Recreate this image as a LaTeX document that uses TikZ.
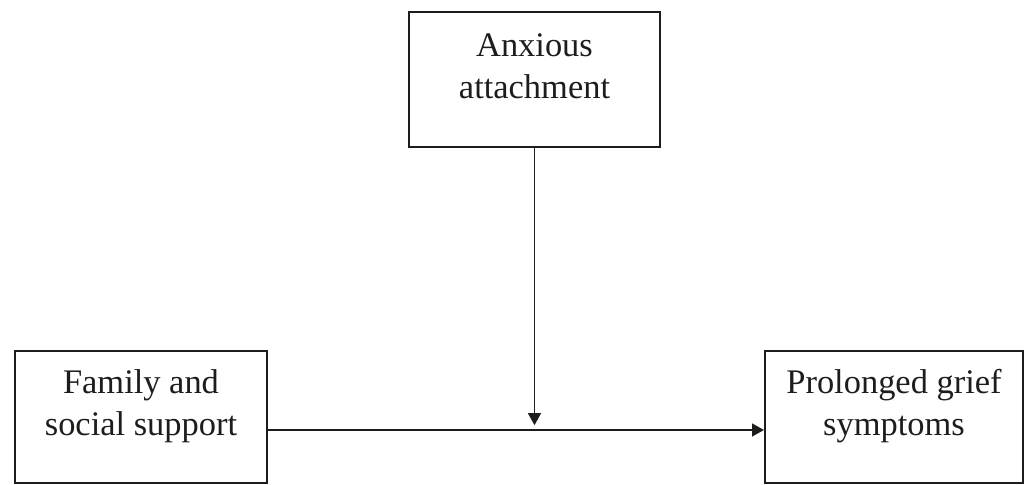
\documentclass[tikz,border=0pt]{standalone}
\usepackage{fontspec}
\setmainfont{Liberation Serif}
\usepackage{tikz}
\usetikzlibrary{positioning,arrows.meta}
\definecolor{colorline}{RGB}{29 ,29 ,27 }
\definecolor{colortext}{RGB}{29 ,29 ,27 }

\begin{document}
\begin{tikzpicture}[
    font={\fontsize{24.5}{30}\selectfont},
    label/.style={text=colortext,align=center,inner sep=0pt},
    box/.style={draw=colorline,line width=1.4pt,rectangle,inner sep=0pt},
    link/.style={draw=colorline,line width=1.4pt,-{Triangle[length=3mm,width=3.2mm]}},
]
    \useasboundingbox (0,0) rectangle (25.65,12.125);

    \node[box,minimum width=6.275cm,minimum height=3.375cm] at (13.3625,10.1375) (anx) {};
    \node[label] at ([yshift=0.3375cm]anx.center) (anxtext) {Anxious\\attachment};

    \node[box,minimum width=6.3cm,minimum height=3.3cm] at (3.525,1.7) (fam) {};
    \node[label] at ([yshift=0.275cm]fam.center) (famtext) {Family and\\social support};

    \node[box,minimum width=6.45cm,minimum height=3.3cm] at (22.35,1.7) (pgs) {};
    \node[label] at ([yshift=0.275cm]pgs.center) (pgstext) {Prolonged grief\\symptoms};

    \coordinate (famout) at ([yshift=-0.325cm]fam.east);
    \coordinate (pgsin) at ([yshift=-0.325cm]pgs.west);
    \coordinate (meet) at ([yshift=0.12cm]anx.south |- famout);

    \draw[link] (famout) -- (pgsin);
    \draw[link] (anx.south) -- (meet);

\end{tikzpicture}
\end{document}
